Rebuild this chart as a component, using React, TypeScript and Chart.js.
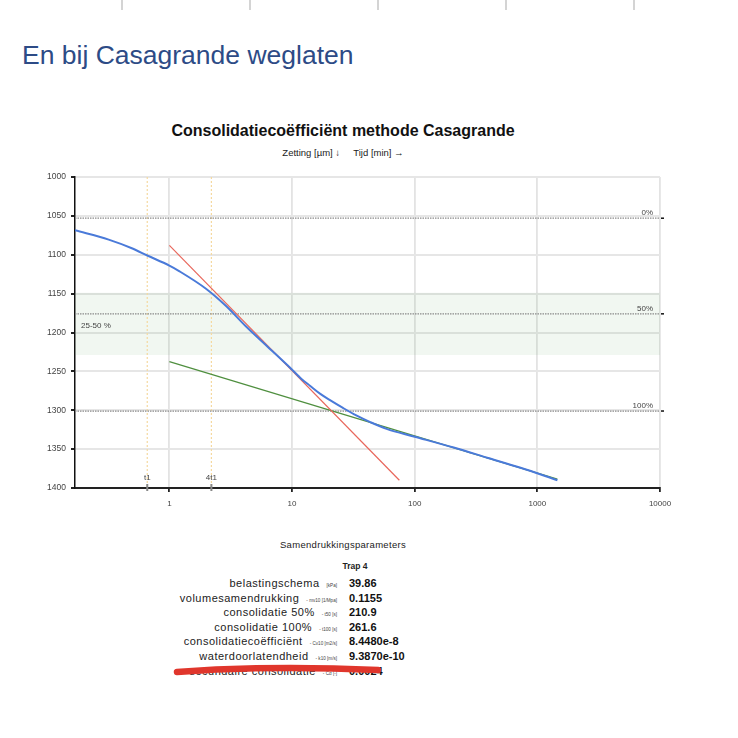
import { useEffect, useRef } from "react"
import { Chart, registerables } from "chart.js"

Chart.register(...registerables)

// settlement curve: time [min] vs zetting [µm]
const TIME_MIN = [0.17, 0.32, 0.5, 0.66, 1, 1.2, 2.0, 2.9, 4.2, 6.2, 9.6, 12, 14, 17, 20.4, 26, 33.7, 43, 59, 100, 208, 390, 730, 1457]
const ZETTING = [1068.5, 1080.5, 1092, 1101, 1114, 1121, 1144, 1166, 1192, 1217, 1245, 1260, 1268.5, 1279, 1287, 1297, 1307, 1315, 1324, 1334, 1348, 1361, 1374, 1390]

// Casagrande construction lines
const STEEP_X = [1, 75]
const STEEP_Y = [1088, 1390]
const SECONDARY_X = [1, 1456]
const SECONDARY_Y = [1237.5, 1388.6]

const LEVELS = [1053, 1176, 1301]
const LEVEL_LABELS = ["0%", "50%", "100%"]
const BAND = [1149, 1229]
const BAND_LABEL = "25-50 %"
const MARKERS_X = [0.66, 2.2]
const MARKER_LABELS = ["t1", "4t1"]

const X_MIN = 0.17
const X_MAX = 10000
const X_TICKS = [1, 10, 100, 1000, 10000]
const Y_MIN = 1000
const Y_MAX = 1400

const PARAM_LABELS = [
  "belastingschema",
  "volumesamendrukking",
  "consolidatie 50%",
  "consolidatie 100%",
  "consolidatiecoëfficiënt",
  "waterdoorlatendheid",
  "secundaire consolidatie",
]
const PARAM_UNITS = ["[kPa]", "- mv10 [1/Mpa]", "- t50 [s]", "- t100 [s]", "- Cv10 [m2/s]", "- k10 [m/s]", "- Cα [-]"]
const PARAM_VALUES = ["39.86", "0.1155", "210.9", "261.6", "8.4480e-8", "9.3870e-10", "0.0024"]

const FONT = "'Liberation Sans', Arial, sans-serif"

const overlay = {
  id: "overlay",
  afterDatasetsDraw(chart: any) {
    const { ctx, chartArea: a, scales } = chart
    const x = scales.x
    const y = scales.y
    ctx.save()
    ctx.font = `8px ${FONT}`
    ctx.textAlign = "right"
    ctx.textBaseline = "bottom"
    LEVELS.forEach((v, i) => {
      const py = y.getPixelForValue(v)
      ctx.fillStyle = "#444"
      ctx.fillText(LEVEL_LABELS[i], a.right - 7, py - 1)
      ctx.fillStyle = "#111"
      ctx.fillRect(a.right + 1, py - 0.75, 3, 1.5)
    })
    ctx.fillStyle = "#444"
    ctx.textAlign = "left"
    ctx.textBaseline = "middle"
    ctx.fillText(BAND_LABEL, a.left + 6, y.getPixelForValue(1192))
    ctx.textAlign = "center"
    MARKERS_X.forEach((v, i) => {
      const px = x.getPixelForValue(v)
      ctx.fillStyle = "#444"
      ctx.fillText(MARKER_LABELS[i], px, a.bottom - 10)
      ctx.fillStyle = "#888"
      ctx.fillRect(px - 1, a.bottom - 4, 2, 7)
    })
    ctx.restore()
  },
}

function CasagrandeChart() {
  const canvasRef = useRef<HTMLCanvasElement>(null)
  const chartRef = useRef<Chart | null>(null)

  useEffect(() => {
    if (!canvasRef.current) return
    if (chartRef.current) chartRef.current.destroy()
    const ctx = canvasRef.current.getContext("2d")
    if (!ctx) return

    const flat = (xs: number[], ys: number[]) => xs.map((v, i) => ({ x: v, y: ys[i] }))

    chartRef.current = new Chart(ctx, {
      type: "line",
      data: {
        datasets: [
          {
            label: "zetting",
            data: flat(TIME_MIN, ZETTING),
            borderColor: "#4a7ad9",
            borderWidth: 2,
            pointRadius: 0,
            cubicInterpolationMode: "monotone",
            order: 0,
          },
          {
            label: "steil",
            data: flat(STEEP_X, STEEP_Y),
            borderColor: "#e8675c",
            borderWidth: 1.2,
            pointRadius: 0,
            order: 1,
          },
          {
            label: "secundair",
            data: flat(SECONDARY_X, SECONDARY_Y),
            borderColor: "#4f8f3f",
            borderWidth: 1.2,
            pointRadius: 0,
            order: 2,
          },
          ...LEVELS.map((v) => ({
            label: "level",
            data: [
              { x: X_MIN, y: v },
              { x: X_MAX, y: v },
            ],
            borderColor: "#8a8a8a",
            borderWidth: 1.2,
            borderDash: [1.5, 1],
            pointRadius: 0,
            order: 3,
          })),
          ...MARKERS_X.map((v) => ({
            label: "marker",
            data: [
              { x: v, y: Y_MIN },
              { x: v, y: Y_MAX },
            ],
            borderColor: "#f5d9a0",
            borderWidth: 1.2,
            borderDash: [2, 2],
            pointRadius: 0,
            order: 4,
          })),
          {
            label: "band",
            data: [
              { x: X_MIN, y: BAND[1] },
              { x: X_MAX, y: BAND[1] },
            ],
            borderWidth: 0,
            borderColor: "rgba(0,0,0,0)",
            backgroundColor: "rgba(120,180,120,0.1)",
            fill: { value: BAND[0] },
            pointRadius: 0,
            order: 5,
          },
        ],
      },
      options: {
        animation: false,
        responsive: true,
        maintainAspectRatio: false,
        layout: { padding: { top: 17, right: 40, left: 0, bottom: 0 } },
        plugins: {
          legend: { display: false },
          tooltip: { enabled: false },
        },
        scales: {
          x: {
            type: "logarithmic",
            min: X_MIN,
            max: X_MAX,
            afterBuildTicks: (axis: any) => {
              axis.ticks = X_TICKS.map((v) => ({ value: v }))
            },
            afterFit: (axis: any) => {
              axis.height = 22
            },
            ticks: {
              autoSkip: false,
              maxRotation: 0,
              padding: 7,
              color: "#444",
              font: { family: FONT, size: 8 },
              callback: (v: any) => String(v),
            },
            grid: {
              color: "#e3e3e3",
              lineWidth: 1.8,
              tickColor: "#222",
              tickLength: 4,
            },
            border: { color: "#222", width: 2 },
          },
          y: {
            type: "linear",
            reverse: true,
            min: Y_MIN,
            max: Y_MAX,
            afterFit: (axis: any) => {
              axis.width = 75
            },
            ticks: {
              stepSize: 50,
              padding: 5,
              color: "#444",
              font: { family: FONT, size: 8.5 },
              callback: (v: any) => String(v),
            },
            grid: {
              color: "#e6e6e6",
              lineWidth: 2,
              tickColor: "#222",
              tickLength: 4,
            },
            border: { color: "#111", width: 1.5 },
          },
        },
      },
      plugins: [overlay],
    } as any)

    return () => {
      if (chartRef.current) {
        chartRef.current.destroy()
        chartRef.current = null
      }
    }
  }, [])

  return (
    <div style={{ position: "absolute", left: 0, top: 160, width: 700, height: 350 }}>
      <canvas ref={canvasRef} />
    </div>
  )
}

export default function App() {
  const rowTop = (i: number) => 576 + i * 14.6
  return (
    <div
      style={{
        position: "absolute",
        left: 0,
        top: 0,
        width: 738,
        height: 738,
        background: "#fff",
        fontFamily: FONT,
        overflow: "hidden",
      }}
    >
      {[121, 249, 377, 505, 633].map((x) => (
        <div key={x} style={{ position: "absolute", left: x, top: 0, width: 1.5, height: 10, background: "#d4d4d4" }} />
      ))}
      <div style={{ position: "absolute", left: 22, top: 40, fontSize: 26.5, lineHeight: "30px", color: "#2d4b86" }}>
        En bij Casagrande weglaten
      </div>
      <div
        style={{
          position: "absolute",
          left: 0,
          width: 686,
          top: 122,
          textAlign: "center",
          fontSize: 16,
          fontWeight: "bold",
          lineHeight: "18px",
          color: "#111",
        }}
      >
        Consolidatiecoëfficiënt methode Casagrande
      </div>
      <div
        style={{
          position: "absolute",
          left: 0,
          width: 686,
          top: 147,
          textAlign: "center",
          fontSize: 9.5,
          lineHeight: "12px",
          color: "#222",
        }}
      >
        Zetting [µm] ↓&nbsp;&nbsp;&nbsp;&nbsp;&nbsp;Tijd [min] →
      </div>
      <CasagrandeChart />
      <div
        style={{
          position: "absolute",
          left: 0,
          width: 686,
          top: 539,
          textAlign: "center",
          fontSize: 9.5,
          lineHeight: "12px",
          color: "#222",
          letterSpacing: 0.3,
        }}
      >
        Samendrukkingsparameters
      </div>
      <div
        style={{
          position: "absolute",
          left: 0,
          width: 710,
          top: 560,
          textAlign: "center",
          fontSize: 8.5,
          fontWeight: "bold",
          lineHeight: "12px",
          color: "#222",
        }}
      >
        Trap 4
      </div>
      {PARAM_LABELS.map((label, i) => (
        <div key={label}>
          <div
            style={{
              position: "absolute",
              right: 738 - 337,
              top: rowTop(i),
              whiteSpace: "nowrap",
              textAlign: "right",
              fontSize: 11,
              lineHeight: "14px",
              letterSpacing: 0.5,
              color: "#222",
            }}
          >
            {label}
            <span style={{ fontSize: 4.6, letterSpacing: 0, marginLeft: 7, color: "#444" }}>{PARAM_UNITS[i]}</span>
          </div>
          <div
            style={{
              position: "absolute",
              left: 349,
              top: rowTop(i),
              whiteSpace: "nowrap",
              fontSize: 11,
              fontWeight: "bold",
              lineHeight: "14px",
              color: "#111",
            }}
          >
            {PARAM_VALUES[i]}
          </div>
        </div>
      ))}
      <svg width={738} height={738} style={{ position: "absolute", left: 0, top: 0, pointerEvents: "none" }}>
        <path d="M177 672 Q 270 665 378 670" stroke="#e0362c" strokeWidth={6.5} strokeLinecap="round" fill="none" />
      </svg>
    </div>
  )
}
